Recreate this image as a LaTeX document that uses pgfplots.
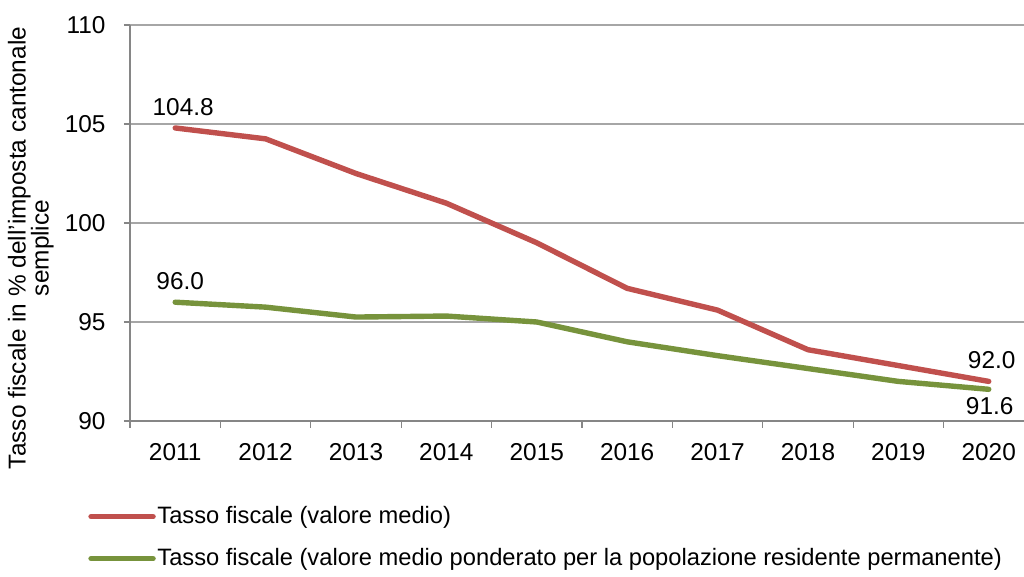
\documentclass[border=0pt]{standalone}
\usepackage{pgfplots}
\pgfplotsset{compat=1.18}
\usepackage{fontspec}
\setmainfont{Liberation Sans}
\definecolor{cred}{HTML}{C0504D}
\definecolor{cgreen}{HTML}{77933C}
\definecolor{axgray}{HTML}{868686}
\definecolor{gridgray}{HTML}{A6A6A6}
\newcommand{\fs}{\fontsize{12.2}{14}\selectfont}
\begin{document}
\fs
\begin{tikzpicture}
\useasboundingbox (-65pt,-78pt) rectangle (447pt,210.5pt);
\begin{axis}[
  scale only axis,
  width=447pt, height=198pt,
  xmin=-0.5, xmax=9.39,
  ymin=90, ymax=110,
  ytick={90,95,100,105,110},
  xtick={0,...,9},
  xticklabels={2011,2012,2013,2014,2015,2016,2017,2018,2019,2020},
  minor xtick={-0.5,0.5,...,8.5},
  major x tick style={draw=none},
  minor x tick style={axgray, line width=0.6pt},
  y tick style={axgray, line width=0.6pt},
  tick align=outside,
  minor tick length=3.5pt,
  major tick length=3pt,
  axis x line*=bottom,
  axis y line*=left,
  axis line style={axgray, line width=0.8pt, -},
  ymajorgrids,
  major grid style={gridgray, line width=0.6pt},
  xticklabel style={yshift=-4pt},
  yticklabel style={xshift=-5pt},
  tick label style={font=\fs},
  /pgf/number format/assume math mode=true,
  ylabel={Tasso fiscale in \% dell'imposta cantonale\\semplice},
  ylabel style={align=center, font=\fontsize{12.2}{11.5}\selectfont, at={(axis description cs:-0.111,0.437)}, anchor=center},
  legend style={draw=none, fill=none, at={(axis description cs:-0.047,-0.21)}, anchor=north west, inner sep=0pt, row sep=9pt, font=\fontsize{11.85}{14}\selectfont, nodes={inner sep=0.8pt}},
  legend cell align=left,
  legend image code/.code={\draw[#1, line cap=round] (0pt,0pt) -- (31pt,0pt);},
  clip=false,
]
\addplot[cred, line width=2.7pt, line join=round, line cap=round] coordinates {
  (0,104.8) (1,104.25) (2,102.5) (3,101.0) (4,99.0) (5,96.7) (6,95.6) (7,93.6) (8,92.8) (9,92.0)};
\addlegendentry{Tasso fiscale (valore medio)}
\addplot[cgreen, line width=2.7pt, line join=round, line cap=round] coordinates {
  (0,96.0) (1,95.75) (2,95.25) (3,95.3) (4,95.0) (5,94.0) (6,93.3) (7,92.65) (8,92.0) (9,91.6)};
\addlegendentry{Tasso fiscale (valore medio ponderato per la popolazione residente permanente)}
\node[anchor=south, xshift=4pt, yshift=6pt, inner sep=0pt] at (axis cs:0,104.8) {104.8};
\node[anchor=south, xshift=2.5pt, yshift=6pt, inner sep=0pt] at (axis cs:0,96.0) {96.0};
\node[anchor=south, xshift=1.5pt, yshift=6pt, inner sep=0pt] at (axis cs:9,92.0) {92.0};
\node[anchor=north, xshift=0.5pt, yshift=-4pt, inner sep=0pt] at (axis cs:9,91.6) {91.6};
\end{axis}
\end{tikzpicture}
\end{document}
